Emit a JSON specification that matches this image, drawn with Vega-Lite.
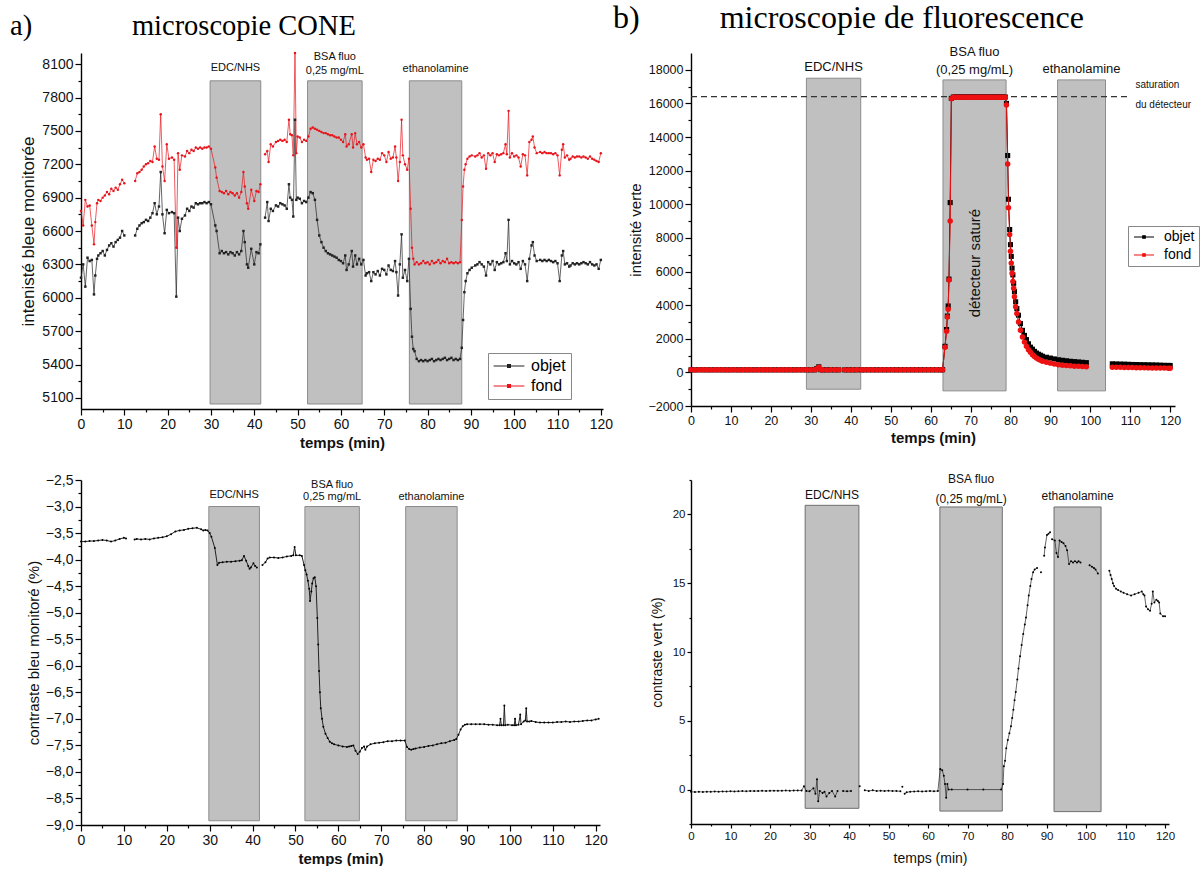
{
"$schema": "https://vega.github.io/schema/vega-lite/v6.json",
"background": "white",
"padding": {"left": 10, "top": 2, "right": 0, "bottom": 0},
"config": {
  "view": {"stroke": null},
  "font": "Liberation Sans",
  "axis": {"domainColor": "#000", "domainWidth": 1.4, "tickColor": "#000", "tickWidth": 1.2, "labelColor": "#111", "titleColor": "#111", "grid": false, "labelFlush": false, "labelOverlap": false, "titleFontWeight": "normal", "labelFont": "Liberation Sans", "titleFont": "Liberation Sans"},
  "title": {"font": "Liberation Serif", "fontWeight": "normal", "color": "#000", "anchor": "start", "frame": "group", "baseline": "alphabetic"},
  "text": {"font": "Liberation Sans", "color": "#111"}
},
"datasets": {
  "rectA": [
    {"x1": 29.8, "x2": 41.5, "y1": 7950, "y2": 5045},
    {"x1": 52.3, "x2": 64.9, "y1": 7950, "y2": 5045},
    {"x1": 75.8, "x2": 87.9, "y1": 7950, "y2": 5045}
  ],
  "labA": [
    {"n": "EDC/NHS", "xm": 35.65, "ly": 8067},
    {"n": "BSA fluo", "xm": 58.6, "ly": 8163},
    {"n": "0,25 mg/mL", "xm": 58.6, "ly": 8040},
    {"n": "ethanolamine", "xm": 81.85, "ly": 8055}
  ],
  "rectB": [
    {"x1": 28.9, "x2": 42.5, "y1": 17500, "y2": -1000},
    {"x1": 63.1, "x2": 78.9, "y1": 17400, "y2": -1100},
    {"x1": 91.8, "x2": 103.8, "y1": 17400, "y2": -1100}
  ],
  "labB": [
    {"n": "EDC/NHS", "xm": 35.7, "ly": 18157},
    {"n": "BSA fluo", "xm": 71, "ly": 19050},
    {"n": "(0,25 mg/mL)", "xm": 71, "ly": 17960},
    {"n": "ethanolamine", "xm": 97.8, "ly": 18020}
  ],
  "rectC": [
    {"x1": 29.8, "x2": 41.6, "y1": -3.0, "y2": -8.92},
    {"x1": 52.2, "x2": 64.9, "y1": -3.0, "y2": -8.92},
    {"x1": 75.7, "x2": 87.7, "y1": -3.0, "y2": -8.92}
  ],
  "labC": [
    {"n": "EDC/NHS", "xm": 35.7, "ly": -2.78},
    {"n": "BSA fluo", "xm": 58.55, "ly": -2.59},
    {"n": "0,25 mg/mL", "xm": 58.55, "ly": -2.82},
    {"n": "ethanolamine", "xm": 81.7, "ly": -2.82}
  ],
  "rectD": [
    {"x1": 28.9, "x2": 42.5, "y1": 20.66, "y2": -1.36},
    {"x1": 63.0, "x2": 78.8, "y1": 20.54, "y2": -1.56},
    {"x1": 91.9, "x2": 103.8, "y1": 20.54, "y2": -1.6}
  ],
  "labD": [
    {"n": "EDC/NHS", "xm": 35.7, "ly": 21.44},
    {"n": "BSA fluo", "xm": 70.9, "ly": 22.56},
    {"n": "(0,25 mg/mL)", "xm": 70.9, "ly": 21.15},
    {"n": "ethanolamine", "xm": 97.85, "ly": 21.34}
  ],
  "satB": [{"t1": 0, "t2": 109.5, "v": 16400}],
  "noteB": [
    {"t": 111.3, "v": 17080, "txt": "saturation"},
    {"t": 111.3, "v": 15890, "txt": "du détecteur"}
  ],
  "noteB2": [
    {"t": 71, "v": 6500, "txt": "détecteur saturé"}
  ],
  "A": [
    {"t":0,"o":6180,"f":6780},{"t":0.5,"o":6300,"f":6650},{"t":1,"o":6100,"f":6880},{"t":1.5,"o":6360,"f":6820},{"t":2,"o":6330,"f":6830},{"t":2.5,"o":6340,"f":6650},{"t":3,"o":6030,"f":6480},{"t":3.3,"o":6200,"f":6680},{"t":3.7,"o":6350,"f":6850},{"t":4,"o":6380,"f":6880},{"t":4.5,"o":6400,"f":6870},{"t":5,"o":6420,"f":6900},{"t":5.5,"o":6380,"f":6920},{"t":6,"o":6430,"f":6950},{"t":6.5,"o":6470,"f":6930},{"t":7,"o":6490,"f":6980},{"t":7.5,"o":6460,"f":6960},{"t":8,"o":6500,"f":6990},{"t":8.5,"o":6520,"f":6970},{"t":9,"o":6540,"f":7020},{"t":9.5,"o":6600,"f":7060},{"t":10,"o":6560,"f":7030},
    {"t":11,"o":null,"f":null},
    {"t":12.5,"o":6560,"f":7050},{"t":13,"o":6620,"f":7120},{"t":13.5,"o":6650,"f":7130},{"t":14,"o":6670,"f":7150},{"t":14.5,"o":6680,"f":7180},{"t":15,"o":6700,"f":7200},{"t":15.5,"o":6690,"f":7210},{"t":16,"o":6720,"f":7230},{"t":16.5,"o":6760,"f":7220},{"t":17,"o":6850,"f":7360},{"t":17.5,"o":6750,"f":7250},{"t":18,"o":6820,"f":7240},{"t":18.4,"o":7130,"f":7650},{"t":18.8,"o":6750,"f":7180},{"t":19.3,"o":6580,"f":7050},{"t":19.8,"o":6790,"f":7380},{"t":20.3,"o":6760,"f":7250},{"t":21,"o":6770,"f":7260},{"t":21.5,"o":6760,"f":7240},{"t":22,"o":6010,"f":6450},{"t":22.4,"o":6720,"f":7300},{"t":22.8,"o":6600,"f":7150},{"t":23.3,"o":6710,"f":7280},{"t":24,"o":6740,"f":7270},{"t":24.5,"o":6800,"f":7320},{"t":25,"o":6780,"f":7300},{"t":25.5,"o":6820,"f":7330},{"t":26,"o":6810,"f":7320},{"t":26.5,"o":6850,"f":7350},{"t":27,"o":6840,"f":7340},{"t":27.5,"o":6850,"f":7350},{"t":28,"o":6850,"f":7340},{"t":28.5,"o":6860,"f":7350},{"t":29,"o":6850,"f":7350},{"t":29.5,"o":6860,"f":7360},{"t":30,"o":6840,"f":7340},
    {"t":31,"o":6650,"f":7170},{"t":31.3,"o":6600,"f":7080},{"t":32,"o":6400,"f":6960},{"t":32.5,"o":6420,"f":6950},{"t":33,"o":6400,"f":6940},{"t":33.5,"o":6410,"f":6960},{"t":34,"o":6390,"f":6930},{"t":34.5,"o":6410,"f":6950},{"t":35,"o":6400,"f":6940},{"t":35.5,"o":6380,"f":6920},{"t":36,"o":6410,"f":6940},{"t":36.5,"o":6390,"f":6900},{"t":37,"o":6420,"f":6950},{"t":37.5,"o":6600,"f":7130},{"t":37.8,"o":6500,"f":7000},{"t":38.3,"o":6300,"f":6850},{"t":38.6,"o":6270,"f":6800},{"t":39.3,"o":6440,"f":6970},{"t":40,"o":6300,"f":6870},{"t":40.5,"o":6410,"f":6960},{"t":41,"o":6400,"f":6950},{"t":41.4,"o":6480,"f":7020},
    {"t":42,"o":null,"f":null},
    {"t":42.5,"o":6720,"f":7290},{"t":43,"o":6860,"f":7320},{"t":43.3,"o":6690,"f":7220},{"t":43.8,"o":6800,"f":7380},{"t":44.3,"o":6780,"f":7360},{"t":45,"o":6830,"f":7400},{"t":45.5,"o":6820,"f":7410},{"t":46,"o":6850,"f":7420},{"t":46.5,"o":6840,"f":7410},{"t":47,"o":6830,"f":7420},{"t":47.5,"o":6800,"f":7400},{"t":48,"o":7020,"f":7600},{"t":48.3,"o":6900,"f":7470},{"t":48.7,"o":6880,"f":7460},{"t":49,"o":6730,"f":7280},{"t":49.4,"o":7600,"f":8200},{"t":49.7,"o":6880,"f":7300},{"t":50,"o":6900,"f":7450},{"t":50.5,"o":6890,"f":7440},{"t":51,"o":6850,"f":7400},{"t":51.5,"o":6870,"f":7420},{"t":52,"o":6860,"f":7410},{"t":52.5,"o":6900,"f":7450},{"t":53,"o":6950,"f":7520},{"t":53.5,"o":6940,"f":7530},{"t":54,"o":6880,"f":7520},{"t":54.5,"o":6700,"f":7510},{"t":55,"o":6560,"f":7500},{"t":55.5,"o":6500,"f":7490},{"t":56,"o":6450,"f":7480},{"t":56.5,"o":6420,"f":7480},{"t":57,"o":6400,"f":7470},{"t":57.5,"o":6390,"f":7460},{"t":58,"o":6380,"f":7460},{"t":58.5,"o":6370,"f":7450},{"t":59,"o":6360,"f":7440},{"t":59.5,"o":6340,"f":7440},{"t":60,"o":6330,"f":7420},{"t":60.5,"o":6310,"f":7400},{"t":61,"o":6380,"f":7470},{"t":61.3,"o":6250,"f":7360},{"t":61.8,"o":6300,"f":7380},{"t":62.5,"o":6420,"f":7470},{"t":62.8,"o":6280,"f":7350},{"t":63.3,"o":6380,"f":7480},{"t":63.7,"o":6300,"f":7380},{"t":64.2,"o":6350,"f":7400},{"t":64.7,"o":6300,"f":7350},{"t":65.2,"o":6340,"f":7380},{"t":65.7,"o":6200,"f":7260},{"t":66,"o":6220,"f":7240},{"t":66.5,"o":6230,"f":7250},{"t":67,"o":6150,"f":7130},{"t":67.5,"o":6230,"f":7240},{"t":68,"o":6210,"f":7230},{"t":68.5,"o":6240,"f":7250},{"t":69,"o":6200,"f":7240},{"t":69.5,"o":6260,"f":7300},{"t":70,"o":6250,"f":7280},{"t":70.5,"o":6210,"f":7220},{"t":71,"o":6290,"f":7310},{"t":71.5,"o":6250,"f":7250},{"t":72,"o":6240,"f":7260},{"t":72.5,"o":6330,"f":7360},{"t":72.8,"o":6230,"f":7260},{"t":73.2,"o":6020,"f":7050},{"t":73.6,"o":6300,"f":7220},{"t":74,"o":6570,"f":7600},{"t":74.3,"o":6180,"f":7280},{"t":74.8,"o":6250,"f":7200},{"t":75.3,"o":6150,"f":7150},{"t":75.7,"o":6350,"f":7250},{"t":76.1,"o":5900,"f":6800},{"t":76.4,"o":5650,"f":6450},{"t":76.7,"o":5540,"f":6350},{"t":77,"o":5520,"f":6300},{"t":77.5,"o":5450,"f":6320},{"t":78,"o":5430,"f":6300},{"t":78.5,"o":5440,"f":6310},{"t":79,"o":5430,"f":6330},{"t":79.5,"o":5440,"f":6310},{"t":80,"o":5430,"f":6320},{"t":80.5,"o":5440,"f":6300},{"t":81,"o":5450,"f":6330},{"t":81.5,"o":5430,"f":6310},{"t":82,"o":5440,"f":6320},{"t":82.5,"o":5450,"f":6340},{"t":83,"o":5440,"f":6310},{"t":83.5,"o":5450,"f":6330},{"t":84,"o":5460,"f":6320},{"t":84.5,"o":5440,"f":6350},{"t":85,"o":5450,"f":6310},{"t":85.5,"o":5460,"f":6320},{"t":86,"o":5440,"f":6310},{"t":86.5,"o":5450,"f":6320},{"t":87,"o":5440,"f":6310},{"t":87.5,"o":5450,"f":6320},{"t":87.9,"o":5550,"f":6700},{"t":88.2,"o":5800,"f":7000},{"t":88.5,"o":6050,"f":7150},{"t":88.8,"o":6150,"f":7200},{"t":89.2,"o":6220,"f":7250},{"t":89.7,"o":6250,"f":7270},{"t":90.2,"o":6270,"f":7280},{"t":91,"o":6290,"f":7270},{"t":91.5,"o":6300,"f":7280},{"t":92,"o":6320,"f":7300},{"t":92.5,"o":6300,"f":7260},{"t":93,"o":6280,"f":7280},{"t":93.5,"o":6200,"f":7160},{"t":94,"o":6320,"f":7300},{"t":94.5,"o":6300,"f":7280},{"t":95,"o":6330,"f":7300},{"t":95.5,"o":6250,"f":7220},{"t":96,"o":6320,"f":7290},{"t":96.5,"o":6300,"f":7280},{"t":97,"o":6310,"f":7290},{"t":97.5,"o":6320,"f":7300},{"t":98,"o":6400,"f":7380},{"t":98.3,"o":6330,"f":7290},{"t":98.7,"o":6700,"f":7680},{"t":99,"o":6300,"f":7260},{"t":99.5,"o":6330,"f":7300},{"t":100,"o":6310,"f":7270},{"t":100.5,"o":6300,"f":7280},{"t":101,"o":6320,"f":7260},{"t":101.5,"o":6260,"f":7180},{"t":102,"o":6330,"f":7290},{"t":102.5,"o":6300,"f":7280},{"t":103,"o":6150,"f":7100},{"t":103.5,"o":6350,"f":7400},{"t":104,"o":6470,"f":7420},{"t":104.3,"o":6500,"f":7450},{"t":104.7,"o":6380,"f":7350},{"t":105.2,"o":6330,"f":7300},{"t":106,"o":6340,"f":7310},{"t":106.5,"o":6330,"f":7300},{"t":107,"o":6340,"f":7310},{"t":107.5,"o":6330,"f":7300},{"t":108,"o":6340,"f":7300},{"t":108.5,"o":6330,"f":7300},{"t":109,"o":6320,"f":7290},{"t":109.5,"o":6330,"f":7300},{"t":110,"o":6310,"f":7280},{"t":110.5,"o":6150,"f":7100},{"t":111,"o":6380,"f":7330},{"t":111.3,"o":6420,"f":7380},{"t":111.7,"o":6300,"f":7260},{"t":112.2,"o":6310,"f":7280},{"t":112.7,"o":6280,"f":7240},{"t":113,"o":6290,"f":7250},{"t":113.5,"o":6310,"f":7270},{"t":114,"o":6300,"f":7260},{"t":114.5,"o":6310,"f":7270},{"t":115,"o":6300,"f":7270},{"t":115.5,"o":6310,"f":7260},{"t":116,"o":6320,"f":7270},{"t":116.5,"o":6310,"f":7260},{"t":117,"o":6300,"f":7250},{"t":117.5,"o":6320,"f":7270},{"t":118,"o":6300,"f":7250},{"t":118.5,"o":6290,"f":7240},{"t":119,"o":6300,"f":7230},{"t":119.5,"o":6260,"f":7220},{"t":120,"o":6340,"f":7300}
  ],
  "B": [
    {"t":0,"o":150,"f":150},{"t":1,"o":150,"f":148},{"t":2,"o":152,"f":150},{"t":3,"o":150,"f":151},{"t":4,"o":149,"f":150},{"t":5,"o":150,"f":149},{"t":6,"o":151,"f":150},{"t":7,"o":150,"f":150},{"t":8,"o":150,"f":151},{"t":9,"o":149,"f":149},{"t":10,"o":150,"f":150},{"t":11,"o":151,"f":150},{"t":12,"o":150,"f":149},{"t":13,"o":150,"f":150},{"t":14,"o":149,"f":151},{"t":15,"o":150,"f":150},{"t":16,"o":151,"f":149},{"t":17,"o":150,"f":150},{"t":18,"o":150,"f":150},{"t":19,"o":149,"f":151},{"t":20,"o":150,"f":150},{"t":21,"o":151,"f":149},{"t":22,"o":150,"f":150},{"t":23,"o":150,"f":150},{"t":24,"o":149,"f":151},{"t":25,"o":150,"f":150},{"t":26,"o":150,"f":149},{"t":27,"o":151,"f":150},{"t":28,"o":150,"f":150},{"t":29,"o":150,"f":151},{"t":30,"o":149,"f":150},{"t":31,"o":150,"f":150},{"t":31.5,"o":230,"f":220},{"t":32,"o":330,"f":300},{"t":32.5,"o":160,"f":155},{"t":33,"o":150,"f":150},{"t":34,"o":151,"f":149},{"t":35,"o":150,"f":150},{"t":36,"o":150,"f":150},{"t":37,"o":149,"f":151},
    {"t":38,"o":null,"f":null},
    {"t":38.5,"o":150,"f":150},{"t":39.5,"o":151,"f":149},{"t":40.5,"o":150,"f":150},{"t":41.5,"o":150,"f":150},
    {"t":42,"o":null,"f":null},
    {"t":42.7,"o":150,"f":150},{"t":43.5,"o":150,"f":151},{"t":44.5,"o":149,"f":150},{"t":45.5,"o":150,"f":150},{"t":46.5,"o":151,"f":149},{"t":47.5,"o":150,"f":150},{"t":48.5,"o":150,"f":150},{"t":49.5,"o":149,"f":151},{"t":50.5,"o":150,"f":150},{"t":51.5,"o":150,"f":149},{"t":52.5,"o":151,"f":150},{"t":53.5,"o":150,"f":150},{"t":54.5,"o":150,"f":151},{"t":55.5,"o":149,"f":150},{"t":56.5,"o":150,"f":150},{"t":57.5,"o":151,"f":149},{"t":58.5,"o":150,"f":150},{"t":59.5,"o":150,"f":150},{"t":60.5,"o":149,"f":151},{"t":61.5,"o":150,"f":150},{"t":62.5,"o":150,"f":150},{"t":63,"o":160,"f":160},
    {"t":63.6,"o":1550,"f":1500},{"t":64,"o":2550,"f":2450},{"t":64.2,"o":3350,"f":3300},{"t":64.4,"o":3950,"f":3750},{"t":64.6,"o":5550,"f":5500},{"t":64.9,"o":10100,"f":9000},{"t":65.2,"o":16300,"f":16280},
    {"t":65.7,"o":16380,"f":16370},{"t":66.2,"o":16380,"f":16370},{"t":66.7,"o":16380,"f":16370},{"t":67.2,"o":16380,"f":16370},{"t":67.7,"o":16380,"f":16370},{"t":68.2,"o":16380,"f":16370},{"t":68.7,"o":16380,"f":16370},{"t":69.2,"o":16380,"f":16370},{"t":69.7,"o":16380,"f":16370},{"t":70.2,"o":16380,"f":16370},{"t":70.7,"o":16380,"f":16370},{"t":71.2,"o":16380,"f":16370},{"t":71.7,"o":16380,"f":16370},{"t":72.2,"o":16380,"f":16370},{"t":72.7,"o":16380,"f":16370},{"t":73.2,"o":16380,"f":16370},{"t":73.7,"o":16380,"f":16370},{"t":74.2,"o":16380,"f":16370},{"t":74.7,"o":16380,"f":16370},{"t":75.2,"o":16380,"f":16370},{"t":75.7,"o":16380,"f":16370},{"t":76.2,"o":16380,"f":16370},{"t":76.7,"o":16380,"f":16370},{"t":77.2,"o":16380,"f":16370},{"t":77.7,"o":16380,"f":16370},{"t":78.2,"o":16380,"f":16370},{"t":78.7,"o":16380,"f":16370},
    {"t":79,"o":16000,"f":15900},{"t":79.3,"o":12900,"f":12400},{"t":79.5,"o":10300,"f":9800},{"t":79.8,"o":8500,"f":8200},{"t":80,"o":7600,"f":7200},{"t":80.2,"o":6900,"f":6500},{"t":80.4,"o":6200,"f":5900},{"t":80.6,"o":5800,"f":5400},{"t":80.8,"o":5300,"f":5000},{"t":81,"o":4800,"f":4500},{"t":81.3,"o":4200,"f":3900},{"t":81.6,"o":3800,"f":3500},{"t":82,"o":3400,"f":3000},{"t":82.5,"o":2900,"f":2500},{"t":83,"o":2500,"f":2100},{"t":83.5,"o":2200,"f":1800},{"t":84,"o":1950,"f":1550},{"t":84.5,"o":1700,"f":1350},{"t":85,"o":1500,"f":1200},{"t":85.5,"o":1380,"f":1050},{"t":86,"o":1250,"f":950},{"t":86.5,"o":1150,"f":850},{"t":87,"o":1080,"f":780},{"t":87.5,"o":1020,"f":720},{"t":88,"o":960,"f":660},{"t":89,"o":900,"f":600},{"t":90,"o":850,"f":550},{"t":91,"o":800,"f":500},{"t":92,"o":750,"f":460},{"t":93,"o":720,"f":430},{"t":94,"o":690,"f":410},{"t":95,"o":660,"f":390},{"t":96,"o":640,"f":370},{"t":97,"o":620,"f":360},{"t":98,"o":600,"f":350},{"t":99,"o":580,"f":340},
    {"t":100,"o":null,"f":null},
    {"t":105.5,"o":510,"f":310},{"t":106.5,"o":500,"f":305},{"t":107.5,"o":495,"f":300},{"t":108.5,"o":490,"f":295},{"t":109.5,"o":480,"f":290},{"t":110.5,"o":470,"f":285},{"t":111.5,"o":465,"f":280},{"t":112.5,"o":460,"f":275},{"t":113.5,"o":455,"f":270},{"t":114.5,"o":450,"f":268},{"t":115.5,"o":445,"f":265},{"t":116.5,"o":440,"f":262},{"t":117.5,"o":430,"f":258},{"t":118.5,"o":420,"f":255},{"t":119.5,"o":415,"f":252},{"t":120,"o":410,"f":250}
  ],
  "C": [
    {"t":0,"c":-3.66},{"t":1,"c":-3.66},{"t":2,"c":-3.65},{"t":3,"c":-3.65},{"t":4,"c":-3.64},{"t":5,"c":-3.63},{"t":6,"c":-3.64},{"t":7,"c":-3.66},{"t":8,"c":-3.64},{"t":9,"c":-3.61},{"t":10,"c":-3.59},{"t":10.5,"c":-3.6},
    {"t":11,"c":null},
    {"t":12.5,"c":-3.62},{"t":13,"c":-3.61},{"t":14,"c":-3.62},{"t":15,"c":-3.61},{"t":16,"c":-3.62},{"t":17,"c":-3.6},{"t":18,"c":-3.59},{"t":19,"c":-3.58},{"t":20,"c":-3.56},{"t":21,"c":-3.52},{"t":22,"c":-3.47},{"t":23,"c":-3.45},{"t":24,"c":-3.44},{"t":25,"c":-3.42},{"t":26,"c":-3.41},{"t":27,"c":-3.4},{"t":28,"c":-3.43},{"t":28.5,"c":-3.45},{"t":29,"c":-3.44},{"t":29.5,"c":-3.45},{"t":30,"c":-3.5},{"t":30.4,"c":-3.57},{"t":31.2,"c":-3.78},{"t":31.8,"c":-4.1},{"t":32.2,"c":-4.06},{"t":33,"c":-4.05},{"t":34,"c":-4.04},{"t":35,"c":-4.04},{"t":36,"c":-4.03},{"t":37,"c":-4.02},{"t":37.5,"c":-4.01},{"t":38,"c":-3.93},{"t":38.5,"c":-4.02},{"t":39,"c":-4.12},{"t":39.3,"c":-4.17},{"t":39.6,"c":-4.15},{"t":40.2,"c":-4.07},{"t":40.6,"c":-4.12},{"t":41,"c":-4.15},
    {"t":41.6,"c":null},
    {"t":42.3,"c":-4.1},{"t":43,"c":-4.05},{"t":43.5,"c":-3.98},{"t":44,"c":-3.96},{"t":45,"c":-3.96},{"t":46,"c":-3.97},{"t":47,"c":-3.96},{"t":48,"c":-3.94},{"t":49,"c":-3.93},{"t":49.5,"c":-3.92},{"t":49.8,"c":-3.76},{"t":50.1,"c":-3.92},{"t":51,"c":-3.92},{"t":51.5,"c":-3.93},{"t":52,"c":-4.1},{"t":52.3,"c":-4.2},{"t":52.6,"c":-4.28},{"t":52.9,"c":-4.4},{"t":53.2,"c":-4.55},{"t":53.4,"c":-4.78},{"t":53.7,"c":-4.6},{"t":53.9,"c":-4.45},{"t":54.2,"c":-4.35},{"t":54.5,"c":-4.33},{"t":54.8,"c":-4.5},{"t":55.1,"c":-5.1},{"t":55.3,"c":-5.6},{"t":55.5,"c":-6.1},{"t":55.7,"c":-6.5},{"t":55.9,"c":-6.8},{"t":56.2,"c":-7.0},{"t":56.5,"c":-7.15},{"t":57,"c":-7.28},{"t":57.5,"c":-7.36},{"t":58,"c":-7.43},{"t":58.5,"c":-7.46},{"t":59,"c":-7.48},{"t":60,"c":-7.5},{"t":61,"c":-7.52},{"t":62,"c":-7.53},{"t":62.5,"c":-7.52},{"t":63,"c":-7.51},{"t":63.5,"c":-7.5},{"t":64,"c":-7.6},{"t":64.5,"c":-7.66},{"t":65,"c":-7.62},{"t":65.5,"c":-7.55},{"t":66,"c":-7.52},{"t":66.3,"c":-7.58},{"t":66.7,"c":-7.52},{"t":67.5,"c":-7.48},{"t":68.5,"c":-7.46},{"t":69.5,"c":-7.45},{"t":70.5,"c":-7.44},{"t":71.5,"c":-7.42},{"t":72.5,"c":-7.42},{"t":73.5,"c":-7.41},{"t":74.5,"c":-7.41},{"t":75.5,"c":-7.41},{"t":76,"c":-7.53},{"t":76.5,"c":-7.57},{"t":77,"c":-7.58},{"t":77.5,"c":-7.57},{"t":78,"c":-7.56},{"t":79,"c":-7.54},{"t":80,"c":-7.53},{"t":81,"c":-7.51},{"t":82,"c":-7.5},{"t":83,"c":-7.48},{"t":84,"c":-7.46},{"t":85,"c":-7.45},{"t":86,"c":-7.42},{"t":87,"c":-7.4},{"t":87.5,"c":-7.38},{"t":88,"c":-7.3},{"t":88.5,"c":-7.2},{"t":89,"c":-7.14},{"t":89.5,"c":-7.11},{"t":90,"c":-7.1},{"t":91,"c":-7.1},{"t":92,"c":-7.1},{"t":93,"c":-7.1},{"t":94,"c":-7.1},{"t":95,"c":-7.11},{"t":96,"c":-7.11},{"t":97,"c":-7.12},{"t":97.6,"c":-7.12},{"t":97.8,"c":-7.0},{"t":98,"c":-7.12},{"t":98.5,"c":-7.12},{"t":98.7,"c":-6.75},{"t":98.9,"c":-7.12},{"t":99.5,"c":-7.11},{"t":100.5,"c":-7.12},{"t":101,"c":-7.12},{"t":101.2,"c":-7.0},{"t":101.4,"c":-7.12},{"t":102,"c":-7.11},{"t":102.4,"c":-6.92},{"t":102.6,"c":-7.1},{"t":103.2,"c":-7.05},{"t":103.6,"c":-7.03},{"t":103.8,"c":-6.8},{"t":104,"c":-7.05},{"t":104.5,"c":-7.05},{"t":105,"c":-7.04},{"t":106,"c":-7.06},{"t":107,"c":-7.07},{"t":108,"c":-7.07},{"t":109,"c":-7.07},{"t":110,"c":-7.07},{"t":111,"c":-7.06},{"t":112,"c":-7.06},{"t":113,"c":-7.05},{"t":114,"c":-7.06},{"t":115,"c":-7.05},{"t":116,"c":-7.05},{"t":117,"c":-7.04},{"t":118,"c":-7.03},{"t":119,"c":-7.03},{"t":120,"c":-7.01},{"t":120.7,"c":-7.0}
  ],
  "D": [
    {"t":0,"d":-0.15},{"t":1,"d":-0.18},{"t":2,"d":-0.16},{"t":3,"d":-0.17},{"t":4,"d":-0.15},{"t":5,"d":-0.16},{"t":6,"d":-0.14},{"t":7,"d":-0.15},{"t":8,"d":-0.13},{"t":9,"d":-0.14},{"t":10,"d":-0.12},{"t":11,"d":-0.13},{"t":12,"d":-0.12},{"t":13,"d":-0.11},{"t":14,"d":-0.12},{"t":15,"d":-0.1},{"t":16,"d":-0.11},{"t":17,"d":-0.1},{"t":18,"d":-0.09},{"t":19,"d":-0.1},{"t":20,"d":-0.09},{"t":21,"d":-0.08},{"t":22,"d":-0.09},{"t":23,"d":-0.08},{"t":24,"d":-0.07},{"t":25,"d":-0.08},{"t":26,"d":-0.07},{"t":27,"d":-0.06},{"t":28,"d":-0.07},{"t":28.6,"d":0.25},{"t":29.2,"d":-0.1},{"t":30,"d":-0.12},{"t":31,"d":0.1},{"t":31.5,"d":-0.3},{"t":31.9,"d":0.75},{"t":32.2,"d":-0.85},{"t":32.6,"d":-0.1},{"t":33.3,"d":-0.25},{"t":33.8,"d":-0.15},{"t":34.3,"d":-0.5},{"t":35,"d":-0.25},{"t":35.7,"d":-0.1},{"t":36.5,"d":-0.5},{"t":37.1,"d":-0.1},
    {"t":37.6,"d":null},
    {"t":38.5,"d":-0.1},{"t":39.5,"d":-0.12},{"t":40.5,"d":-0.1},
    {"t":41.5,"d":null},
    {"t":42.7,"d":0.25},
    {"t":43.3,"d":null},
    {"t":44,"d":-0.05},{"t":45,"d":-0.1},{"t":46,"d":-0.05},{"t":47,"d":-0.1},{"t":48,"d":-0.08},{"t":49,"d":-0.1},{"t":50,"d":-0.08},{"t":51,"d":-0.1},{"t":52,"d":-0.1},{"t":53,"d":-0.12},
    {"t":53.3,"d":null},
    {"t":53.5,"d":0.2},
    {"t":53.8,"d":null},
    {"t":54.1,"d":-0.3},{"t":54.6,"d":-0.2},{"t":55.5,"d":-0.15},{"t":56.5,"d":-0.14},{"t":57.5,"d":-0.12},{"t":58.5,"d":-0.13},{"t":59.5,"d":-0.12},{"t":60.5,"d":-0.1},{"t":61.5,"d":-0.12},{"t":62.5,"d":-0.1},{"t":63.1,"d":1.5},{"t":63.6,"d":1.4},{"t":64,"d":1.0},{"t":64.3,"d":0.4},{"t":64.6,"d":-0.6},{"t":64.9,"d":0.4},{"t":65.2,"d":0.0},{"t":66,"d":0.0},{"t":70,"d":0.0},{"t":74,"d":0.0},{"t":78.5,"d":0.0},{"t":79,"d":0.4},{"t":79.2,"d":1.7},{"t":79.5,"d":2.1},{"t":79.8,"d":3.0},{"t":80.2,"d":3.6},{"t":80.6,"d":4.1},{"t":81,"d":4.6},{"t":81.3,"d":5.2},{"t":81.6,"d":5.8},{"t":81.9,"d":6.5},{"t":82.2,"d":7.1},{"t":82.6,"d":8.0},{"t":82.9,"d":8.8},{"t":83.3,"d":9.7},{"t":83.7,"d":10.5},{"t":84.1,"d":11.3},{"t":84.5,"d":12.0},{"t":84.8,"d":12.5},{"t":85.2,"d":13.4},{"t":85.5,"d":14.1},{"t":85.9,"d":14.8},{"t":86.2,"d":15.3},{"t":86.6,"d":15.8},{"t":87,"d":16.0},{"t":87.6,"d":16.1},
    {"t":88.1,"d":null},
    {"t":88.6,"d":15.8},
    {"t":89,"d":null},
    {"t":89.4,"d":17.0},{"t":89.6,"d":17.6},{"t":90.1,"d":18.5},{"t":90.5,"d":18.6},{"t":90.9,"d":18.7},
    {"t":91.2,"d":null},
    {"t":91.4,"d":18.2},{"t":92.1,"d":18.1},{"t":92.5,"d":17.2},{"t":92.9,"d":16.9},{"t":93.3,"d":18.1},{"t":93.8,"d":18.0},{"t":94.3,"d":17.9},{"t":94.8,"d":17.7},{"t":95.2,"d":17.4},{"t":95.7,"d":16.4},{"t":96.2,"d":16.6},{"t":96.7,"d":16.5},{"t":97.2,"d":16.6},{"t":97.7,"d":16.5},{"t":98.1,"d":16.6},{"t":98.6,"d":16.5},
    {"t":99,"d":null},
    {"t":100.9,"d":16.3},{"t":101.5,"d":16.2},{"t":102,"d":16.1},{"t":102.4,"d":16.0},{"t":103,"d":15.7},
    {"t":103.5,"d":null},
    {"t":105.9,"d":15.9},{"t":106.2,"d":15.6},{"t":106.5,"d":15.3},{"t":106.8,"d":15.0},{"t":107.1,"d":14.8},{"t":107.6,"d":14.6},{"t":108.1,"d":14.5},{"t":108.8,"d":14.4},{"t":109.5,"d":14.3},{"t":110.4,"d":14.2},{"t":111.4,"d":14.1},{"t":112.3,"d":14.2},{"t":113.3,"d":14.3},{"t":114.1,"d":14.4},{"t":114.5,"d":14.2},{"t":114.8,"d":14.1},{"t":115.2,"d":13.3},{"t":115.7,"d":13.1},{"t":116.2,"d":13.0},{"t":116.6,"d":13.5},{"t":116.9,"d":14.4},{"t":117.3,"d":13.6},{"t":117.8,"d":13.8},{"t":118.2,"d":13.7},{"t":118.5,"d":13.6},{"t":118.8,"d":12.8},{"t":119.5,"d":12.6},{"t":120,"d":12.6}
  ]
},
"bounds": "flush",
"columns": 2,
"align": {"row": "each", "column": "none"},
"spacing": {"row": 71, "column": 88},
"resolve": {"scale": {"color": "independent", "x": "independent", "y": "independent"}, "legend": {"color": "independent"}},
"concat": [
  {
    "width": 522, "height": 356,
    "title": {"text": "a)\u00a0\u00a0\u00a0\u00a0\u00a0\u00a0\u00a0\u00a0\u00a0\u00a0\u00a0\u00a0\u00a0\u00a0microscopie CONE", "dx": -71, "offset": 11, "fontSize": 28.5},
    "resolve": {"axis": {"x": "independent", "y": "independent"}},
    "layer": [
      {"data": {"name": "rectA"}, "mark": {"type": "rect", "fill": "#c0c0c0", "stroke": "#8c8c8c", "strokeWidth": 1},
       "encoding": {
         "x": {"field": "x1", "type": "quantitative", "scale": {"domain": [0, 120.5], "nice": false, "zero": false},
               "axis": {"title": "temps (min)", "titleFontSize": 15, "titleFontWeight": "bold", "labelFontSize": 14, "format": "d", "tickSize": 6,
                        "values": [0,10,20,30,40,50,60,70,80,90,100,110,120]}},
         "x2": {"field": "x2"},
         "y": {"field": "y1", "type": "quantitative", "scale": {"domain": [5000, 8200], "nice": false, "zero": false},
               "axis": {"title": "intenisté bleue monitorée", "titleFontSize": 17, "labelFontSize": 14, "format": "d", "titlePadding": 4, "tickSize": 6,
                        "values": [5100,5400,5700,6000,6300,6600,6900,7200,7500,7800,8100]}},
         "y2": {"field": "y2"}
       }},
      {"data": {"name": "labA"}, "mark": {"type": "text", "baseline": "middle", "fontSize": 11},
       "encoding": {
         "x": {"field": "xm", "type": "quantitative", "axis": {"orient": "bottom", "values": [5,15,25,35,45,55,65,75,85,95,105,115], "labels": false, "title": null, "domain": false, "tickSize": 3}},
         "y": {"field": "ly", "type": "quantitative", "axis": {"orient": "left", "values": [5250,5550,5850,6150,6450,6750,7050,7350,7650,7950], "labels": false, "title": null, "domain": false, "tickSize": 3}},
         "text": {"field": "n"}}},
      {"data": {"name": "A"}, "mark": {"type": "line", "strokeWidth": 0.7, "invalid": "break-paths-filter-domains"},
       "encoding": {"x": {"field": "t", "type": "quantitative", "axis": null}, "y": {"field": "o", "type": "quantitative", "axis": null},
         "color": {"datum": "objet", "type": "nominal", "scale": {"domain": ["objet", "fond"], "range": ["#222222", "#e8141b"]},
           "legend": {"orient": "none", "legendX": 407, "legendY": 300, "title": null, "strokeColor": "#888", "fillColor": "white", "padding": 5, "labelFontSize": 16, "labelColor": "#000", "symbolType": "M-2.2,0L2.2,0M-0.2,-0.2L0.2,-0.2L0.2,0.2L-0.2,0.2Z", "symbolSize": 196, "symbolStrokeWidth": 1.2, "symbolOffset": 8, "labelOffset": 14, "rowPadding": 4}}}},
      {"data": {"name": "A"}, "mark": {"type": "line", "strokeWidth": 0.7, "invalid": "break-paths-filter-domains"},
       "encoding": {"x": {"field": "t", "type": "quantitative", "axis": null}, "y": {"field": "f", "type": "quantitative", "axis": null}, "color": {"datum": "fond", "type": "nominal"}}},
      {"data": {"name": "A"}, "mark": {"type": "point", "filled": true, "size": 6, "opacity": 1, "shape": "square"},
       "encoding": {"x": {"field": "t", "type": "quantitative", "axis": null}, "y": {"field": "o", "type": "quantitative", "axis": null}, "color": {"datum": "objet", "type": "nominal"}}},
      {"data": {"name": "A"}, "mark": {"type": "point", "filled": true, "size": 6, "opacity": 1},
       "encoding": {"x": {"field": "t", "type": "quantitative", "axis": null}, "y": {"field": "f", "type": "quantitative", "axis": null}, "color": {"datum": "fond", "type": "nominal"}}}
    ]
  },
  {
    "width": 484, "height": 353,
    "title": {"text": "b)\u00a0\u00a0\u00a0\u00a0\u00a0\u00a0\u00a0\u00a0\u00a0\u00a0microscopie de fluorescence", "dx": -78, "offset": 11, "fontSize": 32},
    "resolve": {"axis": {"x": "independent", "y": "independent"}},
    "layer": [
      {"data": {"name": "rectB"}, "mark": {"type": "rect", "fill": "#c0c0c0", "stroke": "#8c8c8c", "strokeWidth": 1},
       "encoding": {
         "x": {"field": "x1", "type": "quantitative", "scale": {"domain": [0, 121.2], "nice": false, "zero": false},
               "axis": {"title": "temps (min)", "titleFontSize": 15, "titleFontWeight": "bold", "labelFontSize": 12.5, "format": "d", "tickSize": 6,
                        "values": [0,10,20,30,40,50,60,70,80,90,100,110,120]}},
         "x2": {"field": "x2"},
         "y": {"field": "y1", "type": "quantitative", "scale": {"domain": [-2000, 19000], "nice": false, "zero": false},
               "axis": {"title": "intensité verte", "titleFontSize": 15, "labelFontSize": 12.5, "format": "d", "tickSize": 6,
                        "values": [-2000,0,2000,4000,6000,8000,10000,12000,14000,16000,18000]}},
         "y2": {"field": "y2"}
       }},
      {"data": {"name": "labB"}, "mark": {"type": "text", "baseline": "middle", "fontSize": 13},
       "encoding": {
         "x": {"field": "xm", "type": "quantitative", "axis": {"orient": "bottom", "values": [5,15,25,35,45,55,65,75,85,95,105,115], "labels": false, "title": null, "domain": false, "tickSize": 3}},
         "y": {"field": "ly", "type": "quantitative", "axis": {"orient": "left", "values": [-1000,1000,3000,5000,7000,9000,11000,13000,15000,17000], "labels": false, "title": null, "domain": false, "tickSize": 3}},
         "text": {"field": "n"}}},
      {"data": {"name": "satB"}, "mark": {"type": "rule", "strokeDash": [6, 4], "color": "#333", "strokeWidth": 1.2},
       "encoding": {"x": {"field": "t1", "type": "quantitative", "axis": null}, "x2": {"field": "t2"}, "y": {"field": "v", "type": "quantitative", "axis": null}}},
      {"data": {"name": "noteB"}, "mark": {"type": "text", "align": "left", "baseline": "middle", "fontSize": 10},
       "encoding": {"x": {"field": "t", "type": "quantitative", "axis": null}, "y": {"field": "v", "type": "quantitative", "axis": null}, "text": {"field": "txt"}}},
      {"data": {"name": "noteB2"}, "mark": {"type": "text", "align": "center", "baseline": "middle", "fontSize": 15, "angle": 270},
       "encoding": {"x": {"field": "t", "type": "quantitative", "axis": null}, "y": {"field": "v", "type": "quantitative", "axis": null}, "text": {"field": "txt"}}},
      {"data": {"name": "B"}, "mark": {"type": "line", "strokeWidth": 1, "invalid": "break-paths-filter-domains"},
       "encoding": {"x": {"field": "t", "type": "quantitative", "axis": null}, "y": {"field": "o", "type": "quantitative", "axis": null},
         "color": {"datum": "objet", "type": "nominal", "scale": {"domain": ["objet", "fond"], "range": ["#000000", "#ee1111"]},
           "legend": {"orient": "none", "legendX": 437, "legendY": 173, "title": null, "strokeColor": "#888", "fillColor": "white", "padding": 4, "labelFontSize": 14, "labelColor": "#000", "symbolType": "M-2,0L2,0M-0.25,-0.25L0.25,-0.25L0.25,0.25L-0.25,0.25Z", "symbolSize": 100, "symbolStrokeWidth": 1.2, "symbolOffset": 5, "labelOffset": 13, "rowPadding": 4}}}},
      {"data": {"name": "B"}, "mark": {"type": "point", "filled": true, "size": 26, "opacity": 1, "shape": "square"},
       "encoding": {"x": {"field": "t", "type": "quantitative", "axis": null}, "y": {"field": "o", "type": "quantitative", "axis": null}, "color": {"datum": "objet", "type": "nominal"}}},
      {"data": {"name": "B"}, "mark": {"type": "line", "strokeWidth": 1, "invalid": "break-paths-filter-domains"},
       "encoding": {"x": {"field": "t", "type": "quantitative", "axis": null}, "y": {"field": "f", "type": "quantitative", "axis": null}, "color": {"datum": "fond", "type": "nominal"}}},
      {"data": {"name": "B"}, "mark": {"type": "point", "filled": true, "size": 30, "opacity": 1, "shape": "circle"},
       "encoding": {"x": {"field": "t", "type": "quantitative", "axis": null}, "y": {"field": "f", "type": "quantitative", "axis": null}, "color": {"datum": "fond", "type": "nominal"}}}
    ]
  },
  {
    "width": 519, "height": 345,
    "resolve": {"axis": {"x": "independent", "y": "independent"}},
    "layer": [
      {"data": {"name": "rectC"}, "mark": {"type": "rect", "fill": "#c0c0c0", "stroke": "#8c8c8c", "strokeWidth": 1},
       "encoding": {
         "x": {"field": "x1", "type": "quantitative", "scale": {"domain": [0, 121], "nice": false, "zero": false},
               "axis": {"title": "temps (min)", "titleFontSize": 15, "titleFontWeight": "bold", "labelFontSize": 14, "format": "d", "tickSize": 6,
                        "values": [0,10,20,30,40,50,60,70,80,90,100,110,120]}},
         "x2": {"field": "x2"},
         "y": {"field": "y1", "type": "quantitative", "scale": {"domain": [-9, -2.5], "nice": false, "zero": false},
               "axis": {"title": "contraste bleu monitoré (%)", "titleFontSize": 15, "labelFontSize": 14, "tickSize": 6,
                        "values": [-9,-8.5,-8,-7.5,-7,-6.5,-6,-5.5,-5,-4.5,-4,-3.5,-3,-2.5],
                        "labelExpr": "replace(format(datum.value, '.1f'), '.', ',')"}},
         "y2": {"field": "y2"}
       }},
      {"data": {"name": "labC"}, "mark": {"type": "text", "baseline": "middle", "fontSize": 11},
       "encoding": {
         "x": {"field": "xm", "type": "quantitative", "axis": {"orient": "bottom", "values": [5,15,25,35,45,55,65,75,85,95,105,115], "labels": false, "title": null, "domain": false, "tickSize": 3}},
         "y": {"field": "ly", "type": "quantitative", "axis": {"orient": "left", "values": [-8.75,-8.25,-7.75,-7.25,-6.75,-6.25,-5.75,-5.25,-4.75,-4.25,-3.75,-3.25,-2.75], "labels": false, "title": null, "domain": false, "tickSize": 3}},
         "text": {"field": "n"}}},
      {"data": {"name": "C"}, "mark": {"type": "line", "strokeWidth": 1, "color": "#222", "invalid": "break-paths-filter-domains"},
       "encoding": {"x": {"field": "t", "type": "quantitative", "axis": null}, "y": {"field": "c", "type": "quantitative", "axis": null}}},
      {"data": {"name": "C"}, "mark": {"type": "point", "filled": true, "size": 4, "color": "#000", "opacity": 1},
       "encoding": {"x": {"field": "t", "type": "quantitative", "axis": null}, "y": {"field": "c", "type": "quantitative", "axis": null}}}
    ]
  },
  {
    "width": 478, "height": 344,
    "resolve": {"axis": {"x": "independent", "y": "independent"}},
    "layer": [
      {"data": {"name": "rectD"}, "mark": {"type": "rect", "fill": "#c0c0c0", "stroke": "#6e6e6e", "strokeWidth": 1},
       "encoding": {
         "x": {"field": "x1", "type": "quantitative", "scale": {"domain": [0, 121], "nice": false, "zero": false},
               "axis": {"title": "temps (min)", "titleFontSize": 14, "labelFontSize": 11.5, "format": "d", "titlePadding": 10, "tickSize": 4,
                        "values": [0,10,20,30,40,50,60,70,80,90,100,110,120]}},
         "x2": {"field": "x2"},
         "y": {"field": "y1", "type": "quantitative", "scale": {"domain": [-2.5, 22.5], "nice": false, "zero": false},
               "axis": {"title": "contraste vert (%)", "titleFontSize": 14, "labelFontSize": 11.5, "titlePadding": 8, "tickSize": 4, "format": "d",
                        "values": [0,5,10,15,20]}},
         "y2": {"field": "y2"}
       }},
      {"data": {"name": "labD"}, "mark": {"type": "text", "baseline": "middle", "fontSize": 12},
       "encoding": {
         "x": {"field": "xm", "type": "quantitative", "axis": {"orient": "bottom", "values": [5,15,25,35,45,55,65,75,85,95,105,115], "labels": false, "title": null, "domain": false, "tickSize": 2}},
         "y": {"field": "ly", "type": "quantitative", "axis": {"orient": "left", "values": [-2.5,2.5,7.5,12.5,17.5,22.5], "labels": false, "title": null, "domain": false, "tickSize": 2}},
         "text": {"field": "n"}}},
      {"data": {"name": "D"}, "mark": {"type": "line", "strokeWidth": 0.7, "color": "#222", "invalid": "break-paths-filter-domains"},
       "encoding": {"x": {"field": "t", "type": "quantitative", "axis": null}, "y": {"field": "d", "type": "quantitative", "axis": null}}},
      {"data": {"name": "D"}, "mark": {"type": "point", "filled": true, "size": 4, "color": "#000", "opacity": 1},
       "encoding": {"x": {"field": "t", "type": "quantitative", "axis": null}, "y": {"field": "d", "type": "quantitative", "axis": null}}}
    ]
  }
]
}
